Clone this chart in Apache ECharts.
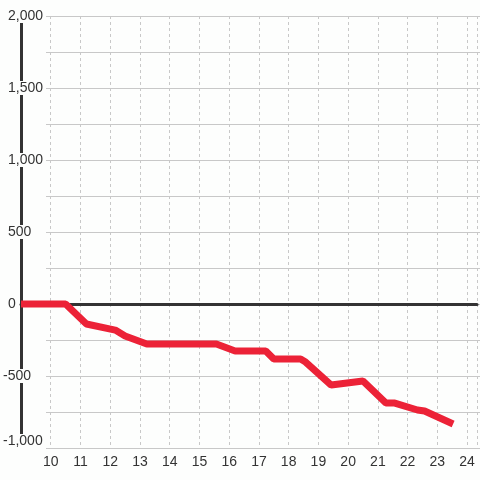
<!DOCTYPE html>
<html>
<head>
<meta charset="utf-8">
<script src="https://cdn.jsdelivr.net/npm/echarts@6/dist/echarts.min.js"></script>
<style>
  html, body { margin: 0; padding: 0; background: #fdfefd; }
  #chart { width: 480px; height: 480px; }
</style>
</head>
<body>
<div id="chart"></div>
<script>
// data
var dayValues = [9, 10.5, 11.2, 12.17, 12.5, 13.23, 15.57, 16.2, 17.23, 17.5, 18.4, 18.57, 19.43, 20.5, 21.27, 21.57, 22.33, 22.57, 23.53];
var totalValues = [0, 0, -139, -181, -222, -278, -278, -326, -326, -382, -382, -403, -563, -535, -688, -688, -736, -743, -833];
var yTicks = [-1000, -500, 0, 500, 1000, 1500, 2000];
var xTicks = [10, 11, 12, 13, 14, 15, 16, 17, 18, 19, 20, 21, 22, 23, 24];

var bg = '#fdfefd';
var txt = '#333';
var font = '"Liberation Sans", Arial, sans-serif';

function fmt(v) {
  return v.toLocaleString('en-US');
}

var seriesData = dayValues.map(function (d, i) { return [d, totalValues[i]]; });

var chart = echarts.init(document.getElementById('chart'));
chart.setOption({
  backgroundColor: bg,
  animation: false,
  grid: [
    { left: 46, right: 0, top: 16, bottom: 32 },
    { left: 20, right: 0, top: 16, bottom: 32 }
  ],
  xAxis: [
    { gridIndex: 0, type: 'value', min: 9, max: 24.333, show: false },
    {
      gridIndex: 1, type: 'value', min: 9, max: 24.333, interval: 1,
      axisLine: { show: false, onZero: false },
      axisTick: { show: false },
      axisLabel: {
        color: txt, fontSize: 14, fontFamily: font, margin: 7,
        formatter: function (v) { return xTicks.indexOf(v) >= 0 ? String(v) : ''; }
      },
      splitLine: { show: true, lineStyle: { color: '#c8c8c8', width: 1, type: [3, 3] } }
    },
    {
      gridIndex: 1, type: 'value', min: 9, max: 24.333, position: 'top',
      axisLine: { show: true, onZero: true, lineStyle: { color: '#333', width: 3 } },
      axisTick: { show: false }, axisLabel: { show: false }, splitLine: { show: false }
    }
  ],
  yAxis: [
    {
      gridIndex: 0, type: 'value', min: -1000, max: 2000, interval: 250,
      axisLine: { show: false }, axisTick: { show: false }, axisLabel: { show: false },
      splitLine: { show: true, lineStyle: { color: '#c8c8c8', width: 1 } }
    },
    {
      gridIndex: 1, type: 'value', min: -1000, max: 2000, interval: 500,
      axisLine: { show: true, lineStyle: { color: '#333', width: 3 } },
      axisTick: { show: false },
      splitLine: { show: false },
      axisLabel: {
        align: 'left', margin: 18,
        formatter: function (v) {
          if (yTicks.indexOf(v) < 0) return '';
          if (v === -1000) return '{m|' + fmt(v) + '}';
          return v < 0 ? '{n|' + fmt(v) + '}' : '{p|' + fmt(v) + '}';
        },
        rich: {
          p: { color: txt, fontSize: 14, fontFamily: font, backgroundColor: bg, padding: [0, 0, 0, 5] },
          n: { color: txt, fontSize: 14, fontFamily: font, backgroundColor: bg },
          m: { color: txt, fontSize: 14, fontFamily: font, backgroundColor: bg, padding: [0, 0, 14, 0] }
        }
      }
    }
  ],
  series: [{
    type: 'line',
    xAxisIndex: 1,
    yAxisIndex: 1,
    data: seriesData,
    showSymbol: false,
    symbol: 'none',
    lineStyle: { color: '#ec2237', width: 7 },
    z: 5
  }]
});
</script>
</body>
</html>
